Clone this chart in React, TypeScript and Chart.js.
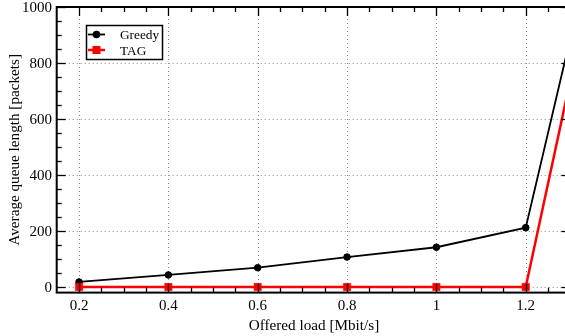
import React, { useEffect, useRef } from 'react';
import { Chart, registerables } from 'chart.js';

Chart.register(...registerables);

const loads = [0.2, 0.4, 0.6, 0.8, 1.0, 1.2, 1.3];
const greedy = [18, 43, 69, 107, 142, 212, 890];
const tag = [0, 0, 0, 0, 0, 0, 740];
const seriesNames = ['Greedy', 'TAG'];
const xTicks = [0.2, 0.4, 0.6, 0.8, 1, 1.2];
const xTickLabels = ['0.2', '0.4', '0.6', '0.8', '1', '1.2'];
const yTicks = [0, 200, 400, 600, 800, 1000];
const yTickLabels = ['0', '200', '400', '600', '800', '1000'];
const xTitle = 'Offered load [Mbit/s]';
const yTitle = 'Average queue length [packets]';

const FONT = '"Liberation Serif", "Times New Roman", serif';
const W = 585;
const H = 336;

const deco = {
  id: 'deco',
  beforeDatasetsDraw(chart: any) {
    const { ctx, chartArea: a, scales } = chart;
    const x = scales.x;
    const y = scales.y;
    ctx.save();
    ctx.strokeStyle = '#8a8a8a';
    ctx.lineWidth = 1;
    ctx.setLineDash([1, 3]);
    for (const v of xTicks) {
      const px = Math.round(x.getPixelForValue(v)) + 0.5;
      ctx.beginPath();
      ctx.moveTo(px, a.top);
      ctx.lineTo(px, a.bottom);
      ctx.stroke();
    }
    for (const v of yTicks) {
      const py = Math.round(y.getPixelForValue(v)) + 0.5;
      ctx.beginPath();
      ctx.moveTo(a.left, py);
      ctx.lineTo(a.right, py);
      ctx.stroke();
    }
    ctx.restore();
  },
  afterDraw(chart: any) {
    const { ctx, chartArea: a, scales } = chart;
    const x = scales.x;
    const y = scales.y;
    ctx.save();
    ctx.setLineDash([]);
    ctx.strokeStyle = '#000';
    ctx.lineWidth = 1.3;
    const seg = (x1: number, y1: number, x2: number, y2: number) => {
      ctx.beginPath();
      ctx.moveTo(x1, y1);
      ctx.lineTo(x2, y2);
      ctx.stroke();
    };
    for (let k = 4; k <= 25; k++) {
      const v = k * 0.05;
      const px = Math.round(x.getPixelForValue(v)) + 0.5;
      const len = k % 4 === 0 ? 9 : 5;
      seg(px, a.bottom, px, a.bottom - len);
      seg(px, a.top, px, a.top + len);
    }
    for (let k = 0; k <= 20; k++) {
      const v = k * 50;
      const py = Math.round(y.getPixelForValue(v)) + 0.5;
      const len = k % 4 === 0 ? 9 : 5;
      seg(a.left, py, a.left + len, py);
      seg(a.right, py, a.right - len, py);
    }
    ctx.lineWidth = 2;
    ctx.strokeRect(a.left, a.top, a.right - a.left, a.bottom - a.top);

    ctx.fillStyle = '#000';
    ctx.font = `15px ${FONT}`;
    ctx.textAlign = 'center';
    ctx.textBaseline = 'alphabetic';
    xTicks.forEach((v, i) => {
      ctx.fillText(xTickLabels[i], x.getPixelForValue(v), 310);
    });
    ctx.textAlign = 'right';
    yTicks.forEach((v, i) => {
      ctx.fillText(yTickLabels[i], 52, y.getPixelForValue(v) + 5);
    });

    ctx.font = `15.2px ${FONT}`;
    ctx.textAlign = 'center';
    ctx.fillText(xTitle, 314, 329.5);
    ctx.save();
    ctx.translate(18.5, (a.top + a.bottom) / 2);
    ctx.rotate(-Math.PI / 2);
    ctx.fillText(yTitle, 0, 0);
    ctx.restore();

    ctx.fillStyle = '#fff';
    ctx.fillRect(86, 25, 76.5, 34);
    ctx.strokeStyle = '#000';
    ctx.lineWidth = 1.5;
    ctx.strokeRect(86.5, 25.5, 76, 34);
    const rows = [
      { name: seriesNames[0], color: '#000', ly: 34.5, ty: 38.5, circle: true },
      { name: seriesNames[1], color: '#ff0000', ly: 50, ty: 54.5, circle: false },
    ];
    for (const r of rows) {
      ctx.strokeStyle = r.color;
      ctx.fillStyle = r.color;
      ctx.lineWidth = r.circle ? 1.8 : 2.5;
      seg(88, r.ly, 105, r.ly);
      if (r.circle) {
        ctx.beginPath();
        ctx.arc(96.5, r.ly, 3.8, 0, Math.PI * 2);
        ctx.fill();
      } else {
        ctx.fillRect(92.5, r.ly - 4, 8, 8);
      }
      ctx.fillStyle = '#000';
      ctx.font = `13.3px ${FONT}`;
      ctx.textAlign = 'left';
      ctx.fillText(r.name, 120, r.ty);
    }
    ctx.restore();
  },
};

export default function App() {
  const ref = useRef<HTMLCanvasElement | null>(null);
  useEffect(() => {
    if (!ref.current) return;
    const chart = new Chart(ref.current, {
      type: 'line',
      data: {
        datasets: [
          {
            label: seriesNames[0],
            data: loads.map((v, i) => ({ x: v, y: greedy[i] })),
            borderColor: '#000',
            backgroundColor: '#000',
            borderWidth: 1.8,
            pointStyle: 'circle',
            pointRadius: 3.3,
            pointBorderWidth: 1,
            pointBackgroundColor: '#000',
            pointBorderColor: '#000',
            tension: 0,
            order: 1,
          },
          {
            label: seriesNames[1],
            data: loads.map((v, i) => ({ x: v, y: tag[i] })),
            borderColor: '#ff0000',
            backgroundColor: '#ff0000',
            borderWidth: 2.5,
            pointStyle: 'rect',
            pointRadius: 5.2,
            pointBorderWidth: 0.5,
            pointBackgroundColor: '#ff0000',
            pointBorderColor: '#ff0000',
            tension: 0,
            order: 0,
          },
        ],
      },
      options: {
        responsive: false,
        animation: false,
        devicePixelRatio: 1,
        layout: { padding: { top: 7, right: W - 570.4, left: 0, bottom: 0 } },
        plugins: {
          legend: { display: false },
          tooltip: { enabled: false },
        },
        scales: {
          x: {
            type: 'linear',
            min: 0.15,
            max: 1.3,
            ticks: { display: false },
            grid: { display: false },
            border: { display: false },
            afterFit: (s: any) => {
              s.height = H - 292.6;
            },
          },
          y: {
            type: 'linear',
            min: -20,
            max: 1000,
            ticks: { display: false },
            grid: { display: false },
            border: { display: false },
            afterFit: (s: any) => {
              s.width = 56.7;
            },
          },
        },
      },
      plugins: [deco],
    } as any);
    return () => chart.destroy();
  }, []);
  return (
    <div
      style={{
        position: 'absolute',
        left: 0,
        top: 0,
        width: 565,
        height: 336,
        overflow: 'hidden',
        background: '#fff',
      }}
    >
      <canvas ref={ref} width={W} height={H} style={{ width: W, height: H, display: 'block' }} />
    </div>
  );
}
